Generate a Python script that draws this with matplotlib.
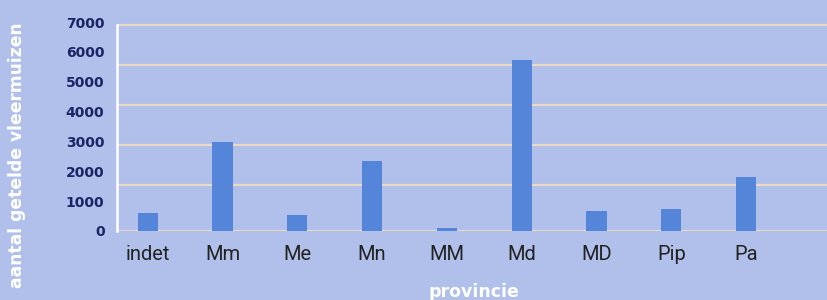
import numpy as np
import matplotlib.pyplot as plt

# --- data --- #
soorten = ['indet', 'Mm', 'Me', 'Mn', 'MM', 'Md', 'MD', 'Pip', 'Pa']
aantallen = [600, 2980, 540, 2340, 100, 5720, 670, 740, 1810]
yticks = [0, 1000, 2000, 3000, 4000, 5000, 6000, 7000]
grid_levels = [0, 1524, 2864, 4220, 5560, 6900]

bg = '#b0c0ea'
bar_color = '#5585d8'
grid_color = '#e8d9c4'
navy = '#1c2466'

fig = plt.figure(figsize=(8.27, 3.0), dpi=100, facecolor=bg)
ax = fig.add_axes([117/827, 69/300, 1 - 117/827, 209/300])
ax.set_facecolor(bg)

x = np.arange(len(soorten))
for g in grid_levels:
    ax.axhline(g, color=grid_color, linewidth=1.6, zorder=1)
ax.bar(x, aantallen, width=0.27, color=bar_color, zorder=3)

ax.set_xlim(-0.41, 9.08)
ax.set_ylim(0, 7000)

for s in ['top', 'right', 'bottom']:
    ax.spines[s].set_visible(False)
ax.spines['left'].set_color('white')
ax.spines['left'].set_linewidth(1.8)
ax.spines['left'].set_bounds(0, 6900)

ax.set_xticks(x)
ax.set_xticklabels(soorten, fontsize=14.5, color='#222222', family='Roboto')
ax.set_yticks(yticks)
ax.set_yticklabels([str(v) for v in yticks], fontsize=10, fontweight='bold', color=navy)
ax.tick_params(axis='x', length=0, pad=10)
ax.tick_params(axis='y', length=0, pad=9)

fig.text(17/827, 1 - 155/300, 'aantal getelde vleermuizen', rotation=90, color='white',
         fontsize=12.3, fontweight='bold', ha='center', va='center')
fig.text(474/827, 1 - 292/300, 'provincie', color='white', fontsize=12.5,
         fontweight='bold', ha='center', va='center')

fig.savefig('out.png', dpi=100, facecolor=bg)
